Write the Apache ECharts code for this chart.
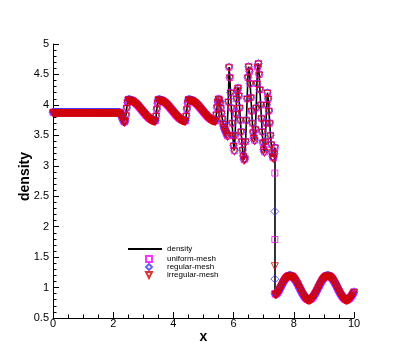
<!DOCTYPE html>
<html>
<head>
<meta charset="utf-8">
<script src="https://cdn.jsdelivr.net/npm/echarts@6/dist/echarts.min.js"></script>
<style>
html,body{margin:0;padding:0;background:#fff;}
#chart{width:403px;height:358px;}
</style>
</head>
<body>
<div id="chart"></div>
<script>
// ---- data ----
// flat post-shock state
const xFlat = [0,0.025,0.05,0.075,0.1,0.125,0.15,0.175,0.2,0.225,0.25,0.275,0.3,0.325,0.35,0.375,0.4,0.425,0.45,0.475,
  0.5,0.525,0.55,0.575,0.6,0.625,0.65,0.675,0.7,0.725,0.75,0.775,0.8,0.825,0.85,0.875,0.9,0.925,0.95,0.975,
  1,1.025,1.05,1.075,1.1,1.125,1.15,1.175,1.2,1.225,1.25,1.275,1.3,1.325,1.35,1.375,1.4,1.425,1.45,1.475,
  1.5,1.525,1.55,1.575,1.6,1.625,1.65,1.675,1.7,1.725,1.75,1.775,1.8,1.825,1.85,1.875,1.9,1.925,1.95,1.975,
  2,2.025,2.05,2.075,2.1,2.125,2.15,2.175,2.2];
const rhoFlat = [3.88,3.88,3.88,3.88,3.88,3.88,3.88,3.88,3.88,3.88,3.88,3.88,3.88,3.88,3.88,3.88,3.88,3.88,3.88,3.88,
  3.88,3.88,3.88,3.88,3.88,3.88,3.88,3.88,3.88,3.88,3.88,3.88,3.88,3.88,3.88,3.88,3.88,3.88,3.88,3.88,
  3.88,3.88,3.88,3.88,3.88,3.88,3.88,3.88,3.88,3.88,3.88,3.88,3.88,3.88,3.88,3.88,3.88,3.88,3.88,3.88,
  3.88,3.88,3.88,3.88,3.88,3.88,3.88,3.88,3.88,3.88,3.88,3.88,3.88,3.88,3.88,3.88,3.88,3.88,3.88,3.88,
  3.88,3.88,3.88,3.88,3.88,3.88,3.88,3.88,3.88];
// small dip before the smooth waves
const xDip = [2.225,2.25,2.275,2.3,2.325,2.35,2.375,2.4,2.425,2.45,2.475];
const rhoDip = [3.87,3.85,3.82,3.79,3.76,3.73,3.72,3.74,3.83,3.95,4.04];
// three smooth waves
const xWaves = [2.5,2.525,2.55,2.575,2.6,2.625,2.65,2.675,2.7,2.725,2.75,2.775,2.8,2.825,2.85,2.875,2.9,2.925,2.95,2.975,
  3,3.025,3.05,3.075,3.1,3.125,3.15,3.175,3.2,3.225,3.25,3.275,3.3,3.325,3.35,3.375,3.4,3.425,3.45,3.475,
  3.5,3.525,3.55,3.575,3.6,3.625,3.65,3.675,3.7,3.725,3.75,3.775,3.8,3.825,3.85,3.875,3.9,3.925,3.95,3.975,
  4,4.025,4.05,4.075,4.1,4.125,4.15,4.175,4.2,4.225,4.25,4.275,4.3,4.325,4.35,4.375,4.4,4.425,4.45,4.475,
  4.5,4.525,4.55,4.575,4.6,4.625,4.65,4.675,4.7,4.725,4.75,4.775,4.8,4.825,4.85,4.875,4.9,4.925,4.95,4.975,
  5,5.025,5.05,5.075,5.1,5.125,5.15,5.175,5.2,5.225,5.25,5.275,5.3,5.325,5.35,5.375,5.4,5.425,5.45,5.475];
const rhoWaves = [4.09,4.089,4.087,4.084,4.079,4.074,4.067,4.058,4.049,4.039,4.027,4.015,4.003,3.989,3.975,3.96,3.945,3.93,3.915,3.9,
  3.885,3.87,3.855,3.84,3.828,3.815,3.803,3.791,3.781,3.772,3.763,3.756,3.751,3.746,3.743,3.741,3.74,3.82,3.93,4.03,
  4.09,4.089,4.087,4.084,4.079,4.074,4.067,4.058,4.049,4.039,4.027,4.015,4.003,3.989,3.975,3.96,3.945,3.93,3.915,3.9,
  3.885,3.87,3.855,3.84,3.828,3.815,3.803,3.791,3.781,3.772,3.763,3.756,3.751,3.746,3.743,3.741,3.74,3.82,3.93,4.03,
  4.09,4.089,4.087,4.084,4.079,4.074,4.067,4.058,4.049,4.039,4.027,4.015,4.003,3.989,3.975,3.96,3.945,3.93,3.915,3.9,
  3.885,3.87,3.855,3.84,3.828,3.815,3.803,3.791,3.781,3.772,3.763,3.756,3.751,3.746,3.743,3.741,3.74,3.84,3.96,4.05];
// high-frequency region up to the shock
const xOsc = [5.5,5.525,5.55,5.575,5.6,5.625,5.65,5.675,5.7,5.725,5.75,5.775,5.8,5.825,5.85,5.875,5.9,5.925,5.95,5.975,
  6,6.025,6.05,6.075,6.1,6.125,6.15,6.175,6.2,6.225,6.25,6.275,6.3,6.325,6.35,6.375,6.4,6.425,6.45,6.475,
  6.5,6.525,6.55,6.575,6.6,6.625,6.65,6.675,6.7,6.725,6.75,6.775,6.8,6.825,6.85,6.875,6.9,6.925,6.95,6.975,
  7,7.025,7.05,7.075,7.1,7.125,7.15,7.175,7.2,7.225,7.25,7.275,7.3,7.325,7.35,7.375];
const rhoOsc = [4.10,4.08,4.03,3.95,3.86,3.77,3.69,3.64,3.61,3.58,3.55,3.52,3.49,4.05,4.62,4.45,4.2,3.95,3.7,3.5,
  3.33,3.25,3.5,3.85,4.1,4.24,4.28,4.15,3.95,3.75,3.56,3.4,3.26,3.16,3.1,3.12,3.4,3.75,4.1,4.45,
  4.63,4.55,4.35,4.12,3.9,3.7,3.55,3.46,3.42,3.6,3.95,4.35,4.62,4.68,4.5,4.25,4.0,3.78,3.56,3.38,
  3.27,3.23,3.4,3.7,4.0,4.2,4.1,3.9,3.7,3.5,3.35,3.22,3.15,3.13,3.2,3.3];
// undisturbed wave ahead of the shock
const xRight = [7.375,
  7.4,7.425,7.45,7.475,7.5,7.525,7.55,7.575,7.6,7.625,7.65,7.675,7.7,7.725,7.75,7.775,7.8,7.825,7.85,7.875,
  7.9,7.925,7.95,7.975,8,8.025,8.05,8.075,8.1,8.125,8.15,8.175,8.2,8.225,8.25,8.275,8.3,8.325,8.35,8.375,
  8.4,8.425,8.45,8.475,8.5,8.525,8.55,8.575,8.6,8.625,8.65,8.675,8.7,8.725,8.75,8.775,8.8,8.825,8.85,8.875,
  8.9,8.925,8.95,8.975,9,9.025,9.05,9.075,9.1,9.125,9.15,9.175,9.2,9.225,9.25,9.275,9.3,9.325,9.35,9.375,
  9.4,9.425,9.45,9.475,9.5,9.525,9.55,9.575,9.6,9.625,9.65,9.675,9.7,9.725,9.75,9.775,9.8,9.825,9.85,9.875,
  9.9,9.925,9.95,9.975,10];
const rhoRight = [0.9,
  0.89,0.9,0.91,0.925,0.943,0.968,0.992,1.017,1.042,1.066,1.089,1.111,1.131,1.149,1.164,1.177,1.187,1.195,1.199,1.2,
  1.198,1.193,1.185,1.174,1.16,1.144,1.126,1.105,1.083,1.06,1.036,1.011,0.986,0.961,0.937,0.914,0.892,0.872,0.854,0.838,
  0.824,0.814,0.806,0.802,0.8,0.802,0.806,0.814,0.824,0.838,0.854,0.872,0.892,0.914,0.937,0.961,0.986,1.011,1.036,1.06,
  1.083,1.105,1.126,1.144,1.16,1.174,1.185,1.193,1.198,1.2,1.199,1.195,1.187,1.177,1.164,1.149,1.131,1.111,1.089,1.066,
  1.042,1.017,0.992,0.968,0.943,0.92,0.898,0.877,0.858,0.842,0.828,0.816,0.808,0.802,0.8,0.801,0.805,0.812,0.821,0.834,
  0.849,0.867,0.887,0.908,0.931];

// points inside the shock, one small list per mesh
const uniformShockX = [7.37, 7.37];
const uniformShockRho = [2.88, 1.79];
const regularShockX = [7.37, 7.37];
const regularShockRho = [2.25, 1.14];
const irregularShockX = [7.37];
const irregularShockRho = [1.37];

const xTicks = [0, 2, 4, 6, 8, 10];
const yTicks = [0.5, 1, 1.5, 2, 2.5, 3, 3.5, 4, 4.5, 5];

// ---- build series data ----
function pairs(xs, ys) { return xs.map((x, i) => [x, ys[i]]); }
const profile = [].concat(pairs(xFlat, rhoFlat), pairs(xDip, rhoDip), pairs(xWaves, rhoWaves),
  pairs(xOsc, rhoOsc), pairs(xRight, rhoRight));
const uniformData = profile.concat(pairs(uniformShockX, uniformShockRho));
const regularData = profile.concat(pairs(regularShockX, regularShockRho));
const irregularData = profile.concat(pairs(irregularShockX, irregularShockRho));

const FONT = '"Liberation Sans", Arial, Helvetica, sans-serif';
const DOWN_TRI = 'path://M0,0L10,0L5,10Z';
const MAG = '#ff00ff', BLUE = '#3c3cff', RED = '#d60000';
const chart = echarts.init(document.getElementById('chart'), null, {renderer: 'canvas'});
const axisCommon = {
  type: 'value',
  nameLocation: 'middle',
  nameMoveOverlap: false,
  axisLine: {show: true, onZero: false, lineStyle: {color: '#000', width: 1}},
  axisTick: {show: true, inside: true, length: 6, lineStyle: {color: '#000', width: 1}},
  minorTick: {show: true, length: 3.5, lineStyle: {color: '#000', width: 1}},
  splitLine: {show: false},
  axisLabel: {fontFamily: FONT, fontSize: 11, color: '#000'}
};
const legendText = {fontFamily: FONT, fontSize: 8, lineHeight: 8, color: '#000'};
chart.setOption({
  animation: false,
  backgroundColor: '#fff',
  grid: {left: 53, right: 49, top: 44, bottom: 40, containLabel: false},
  xAxis: Object.assign({}, axisCommon, {
    name: 'x', nameGap: 12,
    nameTextStyle: {fontFamily: FONT, fontSize: 14, fontWeight: 'bold', color: '#000'},
    min: xTicks[0], max: xTicks[xTicks.length - 1], interval: xTicks[1] - xTicks[0],
    minorTick: Object.assign({}, axisCommon.minorTick, {splitNumber: 4}),
    axisLabel: Object.assign({}, axisCommon.axisLabel, {margin: 0})
  }),
  yAxis: Object.assign({}, axisCommon, {
    name: 'density', nameGap: 21,
    nameTextStyle: {fontFamily: FONT, fontSize: 14, fontWeight: 'bold', color: '#000', padding: [0, 0, 0, 9]},
    min: yTicks[0], max: yTicks[yTicks.length - 1], interval: yTicks[1] - yTicks[0],
    minorTick: Object.assign({}, axisCommon.minorTick, {splitNumber: 5}),
    axisLabel: Object.assign({}, axisCommon.axisLabel, {margin: 4})
  }),
  legend: [
    {
      orient: 'vertical', left: 128, top: 245, padding: 0,
      itemWidth: 34, itemHeight: 2, itemGap: 0,
      textStyle: legendText, selectedMode: false,
      data: [{name: 'density', icon: 'rect'}]
    },
    {
      orient: 'vertical', left: 145, top: 255, padding: 0,
      itemWidth: 6, itemHeight: 6, itemGap: 0,
      textStyle: Object.assign({}, legendText, {padding: [0, 0, 0, 10]}), selectedMode: false,
      data: [{name: 'uniform-mesh', icon: 'rect'}, {name: 'regular-mesh', icon: 'diamond'},
             {name: 'irregular-mesh', icon: DOWN_TRI}]
    }
  ],
  series: [
    {name: 'density', type: 'line', data: profile, showSymbol: false, symbol: 'none', silent: true, z: 1,
     lineStyle: {color: '#000', width: 1.6}, itemStyle: {color: '#000'}},
    {name: 'uniform-mesh', type: 'scatter', data: uniformData, symbol: 'rect', symbolSize: 6, silent: true, z: 2,
     itemStyle: {color: 'rgba(255,255,255,0)', borderColor: MAG, borderWidth: 1}},
    {name: 'regular-mesh', type: 'scatter', data: regularData, symbol: 'diamond', symbolSize: 8, silent: true, z: 3,
     itemStyle: {color: 'rgba(255,255,255,0)', borderColor: BLUE, borderWidth: 1}},
    {name: 'irregular-mesh', type: 'scatter', data: irregularData, symbol: DOWN_TRI, symbolSize: 7,
     symbolOffset: [0, 1.2], silent: true, z: 4,
     itemStyle: {color: 'rgba(255,255,255,0)', borderColor: RED, borderWidth: 1}}
  ]
});
</script>
</body>
</html>
